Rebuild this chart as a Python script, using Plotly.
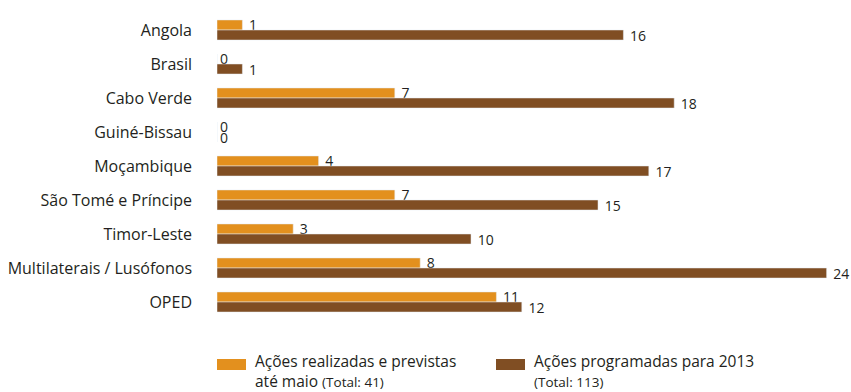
import plotly.graph_objects as go

# Actions per partner country
categories = ["Angola", "Brasil", "Cabo Verde", "Guiné-Bissau", "Moçambique",
              "São Tomé e Príncipe", "Timor-Leste", "Multilaterais / Lusófonos", "OPED"]
realizadas = [1, 0, 7, 0, 4, 7, 3, 8, 11]
programadas = [16, 1, 18, 0, 17, 15, 10, 24, 12]

ORANGE = "#E3901E"
BROWN = "#804E23"
FONT = "Open Sans"
TXT = "#231F20"


def value_labels(values):
    # small gap between bar end and its value, none for empty bars
    return [str(v) if v == 0 else "&nbsp;" + str(v) for v in values]


fig = go.Figure()
fig.add_trace(go.Bar(
    y=categories, x=realizadas, orientation="h", marker_color=ORANGE,
    text=value_labels(realizadas), textposition="outside", cliponaxis=False,
    constraintext="none",
    textfont=dict(family=FONT, size=14, color=TXT), name="realizadas",
))
fig.add_trace(go.Bar(
    y=categories, x=programadas, orientation="h", marker_color=BROWN,
    text=value_labels(programadas), textposition="outside", cliponaxis=False,
    constraintext="none",
    textfont=dict(family=FONT, size=14, color=TXT), name="programadas",
))

fig.update_layout(
    width=851, height=392,
    margin=dict(l=217, r=0, t=13, b=73),
    barmode="group", bargap=0.41, bargroupgap=0,
    plot_bgcolor="white", paper_bgcolor="white",
    showlegend=False,
    font=dict(family=FONT, size=14, color=TXT),
    xaxis=dict(range=[0, 24.96], visible=False),
    yaxis=dict(autorange="reversed", showgrid=False, showline=False, zeroline=False,
               ticks="", ticklabelstandoff=24,
               tickfont=dict(family=FONT, size=16, color=TXT)),
)

# Legend drawn as swatches with text beside them
legend_items = [
    (0.0, ORANGE, "Ações realizadas e previstas<br>até maio <span style='font-size:13.5px'>(Total: 41)</span>"),
    (279 / 634, BROWN, "Ações programadas para 2013<br><span style='font-size:13.5px'>(Total: 113)</span>"),
]
for x0, col, label in legend_items:
    fig.add_shape(type="rect", xref="paper", yref="paper",
                  x0=x0, x1=x0 + 29 / 634, y0=-(359 - 319) / 306, y1=-(370 - 319) / 306,
                  fillcolor=col, line_width=0)
    fig.add_annotation(xref="paper", yref="paper", x=x0 + 36 / 634, y=-(348 - 319) / 306,
                       xanchor="left", yanchor="top", align="left", showarrow=False,
                       text=label, font=dict(family=FONT, size=15.5, color=TXT))

fig.write_html("out.html")
